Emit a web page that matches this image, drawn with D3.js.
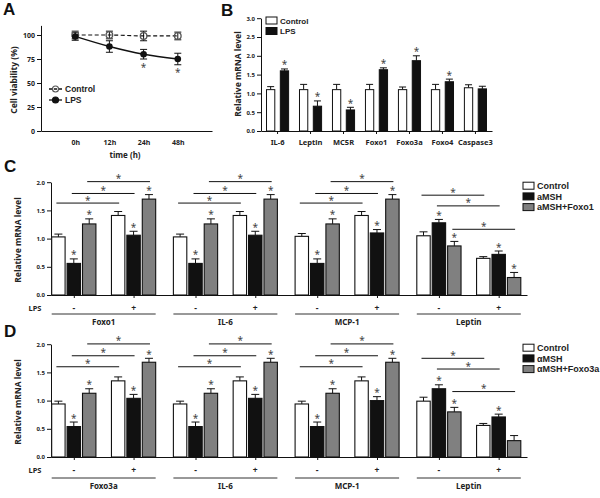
<!DOCTYPE html>
<html><head><meta charset="utf-8">
<script src="https://cdn.jsdelivr.net/npm/d3@7"></script>
<style>body{margin:0;background:#fff}svg{display:block}</style>
</head><body><svg id="c" width="600" height="498"></svg>
<script>
// ---------- DATA ----------
const timeLabels = ["0h", "12h", "24h", "48h"];
const viabilityControl = [100, 100, 99, 99];
const viabilityControlErr = [4, 4, 5, 4];
const viabilityLPS = [98.5, 88, 80, 75];
const viabilityLPSErr = [4, 6, 5, 6];
const viabilitySig = [0, 0, 1, 1];
const viabilityTicks = [0, 25, 50, 75, 100];

const genesB = ["IL-6", "Leptin", "MC5R", "Foxo1", "Foxo3a", "Foxo4", "Caspase3"];
const seriesB = ["Control", "LPS"];
const controlB = [1.10, 1.10, 1.10, 1.10, 1.10, 1.10, 1.15];
const controlBErr = [0.08, 0.14, 0.14, 0.14, 0.07, 0.14, 0.08];
const lpsB = [1.60, 0.66, 0.56, 1.63, 1.87, 1.31, 1.12];
const lpsBErr = [0.05, 0.14, 0.07, 0.05, 0.13, 0.07, 0.07];
const sigB = [1, 1, 1, 1, 1, 1, 0];
const ticksB = [0, 0.5, 1, 1.5, 2, 2.5, 3];

const lpsLevels = ["-", "+"];
const ticksCD = [0, 0.5, 1, 1.5, 2];
// order inside each gene: LPS- (Control, aMSH, aMSH+X), LPS+ (Control, aMSH, aMSH+X)
const genesC = ["Foxo1", "IL-6", "MCP-1", "Leptin"];
const seriesC = ["Control", "aMSH", "aMSH+Foxo1"];
const valuesC = [
  [1.03, 0.56, 1.26, 1.41, 1.06, 1.70],
  [1.03, 0.56, 1.26, 1.41, 1.06, 1.70],
  [1.04, 0.56, 1.26, 1.41, 1.10, 1.70],
  [1.05, 1.28, 0.87, 0.65, 0.72, 0.31]
];
const errorsC = [
  [0.05, 0.08, 0.09, 0.07, 0.07, 0.08],
  [0.05, 0.08, 0.09, 0.07, 0.07, 0.08],
  [0.05, 0.08, 0.09, 0.07, 0.06, 0.08],
  [0.07, 0.06, 0.08, 0.03, 0.06, 0.09]
];
const sigC = [
  [0, 1, 1, 0, 1, 1], [0, 1, 1, 0, 1, 1], [0, 1, 1, 0, 1, 1], [0, 1, 1, 0, 1, 1]
];
// bracket heights (Control, aMSH, aMSH+X : LPS- vs LPS+)
const bracketsC = [
  [1.63, 1.80, 2.01], [1.63, 1.80, 2.01], [1.63, 1.80, 2.01], [1.77, 1.58, 1.165]
];

const genesD = ["Foxo3a", "IL-6", "MCP-1", "Leptin"];
const seriesD = ["Control", "αMSH", "αMSH+Foxo3a"];
const valuesD = [
  [0.94, 0.54, 1.13, 1.35, 1.04, 1.68],
  [0.94, 0.54, 1.13, 1.35, 1.04, 1.68],
  [0.94, 0.54, 1.13, 1.35, 1.00, 1.68],
  [0.99, 1.21, 0.80, 0.56, 0.71, 0.29]
];
const errorsD = [
  [0.05, 0.08, 0.08, 0.07, 0.07, 0.07],
  [0.05, 0.08, 0.08, 0.07, 0.07, 0.07],
  [0.05, 0.08, 0.08, 0.07, 0.07, 0.07],
  [0.07, 0.07, 0.08, 0.035, 0.05, 0.09]
];
const sigD = [
  [0, 1, 1, 0, 1, 1], [0, 1, 1, 0, 1, 1], [0, 1, 1, 0, 1, 1], [0, 1, 1, 0, 1, 0]
];
const bracketsD = [
  [1.60, 1.795, 2.005], [1.60, 1.795, 2.005], [1.60, 1.795, 2.005], [1.75, 1.56, 1.16]
];

// ---------- DRAW ----------
const FONT = '"Noto Sans", "DejaVu Sans", sans-serif';
const LFONT = '"Liberation Sans", Arial, sans-serif';
const svg = d3.select("#c").style("font-family", FONT);
const FILLS = ["#ffffff", "#111111", "#808080"];
const INK = "#111";

function styleAxis(sel, fs) {
  sel.selectAll("path,line").attr("stroke", INK).attr("stroke-width", 1);
  sel.selectAll("text").attr("font-family", FONT).attr("font-size", fs)
     .attr("font-weight", "bold").attr("fill", "#222");
}
function star(g, x, yc, fs) {
  g.append("text").attr("x", x).attr("y", yc + fs * 0.55).attr("text-anchor", "middle")
    .attr("font-size", fs).attr("fill", "#444").attr("font-family", FONT).text("*");
}
function panelLabel(t, x, y) {
  svg.append("text").attr("x", x).attr("y", y).attr("font-size", 17).attr("font-weight", "bold")
    .attr("font-family", LFONT).attr("fill", "#111").text(t);
}
function yTitle(t, x, y) {
  svg.append("text").attr("transform", `translate(${x},${y}) rotate(-90)`).attr("text-anchor", "middle")
    .attr("font-size", 8.5).attr("font-weight", "bold").attr("fill", "#222").text(t);
}
function legendText(g, x, y, fs, t) {
  g.append("text").attr("x", x).attr("y", y).attr("font-size", fs).attr("font-weight", "bold")
    .attr("font-family", LFONT).attr("fill", "#222").text(t);
}

// Panel A
(function () {
  const g = svg.append("g");
  const x = d3.scalePoint().domain(timeLabels).range([41, 212]).padding(1);
  const y = d3.scaleLinear().domain([0, 110]).range([131, 25.4]);
  const ay = g.append("g").attr("transform", "translate(41,0)")
    .call(d3.axisLeft(y).tickValues(viabilityTicks).tickSize(4).tickSizeOuter(0).tickPadding(2));
  styleAxis(ay, 7);
  const ax = g.append("g").attr("transform", "translate(0,131)")
    .call(d3.axisBottom(x).tickSize(0).tickSizeOuter(0).tickPadding(9));
  styleAxis(ax, 7);
  g.append("text").attr("x", 125).attr("y", 158).attr("text-anchor", "middle")
    .attr("font-size", 8).attr("font-weight", "bold").attr("fill", "#222").text("time (h)");

  const line = d3.line().x((d, i) => x(timeLabels[i])).y(d => y(d)).curve(d3.curveMonotoneX);
  g.append("path").attr("d", line(viabilityControl)).attr("fill", "none").attr("stroke", INK)
    .attr("stroke-width", 1.2).attr("stroke-dasharray", "4,2.5");
  g.append("path").attr("d", line(viabilityLPS)).attr("fill", "none").attr("stroke", INK).attr("stroke-width", 1.4);

  function errs(vals, es) {
    vals.forEach((v, i) => {
      const cx = x(timeLabels[i]);
      g.append("line").attr("x1", cx).attr("x2", cx).attr("y1", y(v - es[i])).attr("y2", y(v + es[i])).attr("stroke", INK);
      [v - es[i], v + es[i]].forEach(w => g.append("line").attr("x1", cx - 3.5).attr("x2", cx + 3.5)
        .attr("y1", y(w)).attr("y2", y(w)).attr("stroke", INK));
    });
  }
  errs(viabilityControl, viabilityControlErr);
  errs(viabilityLPS, viabilityLPSErr);
  viabilityControl.forEach((v, i) => g.append("circle").attr("cx", x(timeLabels[i])).attr("cy", y(v)).attr("r", 3.3)
    .attr("fill", "none").attr("stroke", "#555").attr("stroke-width", 1.3));
  viabilityLPS.forEach((v, i) => g.append("circle").attr("cx", x(timeLabels[i])).attr("cy", y(v)).attr("r", 3.3).attr("fill", INK));
  viabilityLPS.forEach((v, i) => { if (viabilitySig[i]) star(g, x(timeLabels[i]), y(v - viabilityLPSErr[i]) + 6, 10); });

  // legend
  const items = [["Control", true], ["LPS", false]];
  items.forEach(([t, dashed], i) => {
    const yy = 89 + i * 11;
    g.append("line").attr("x1", 49).attr("x2", 62).attr("y1", yy).attr("y2", yy).attr("stroke", INK)
      .attr("stroke-width", 1.3).attr("stroke-dasharray", dashed ? "3,2" : null);
    g.append("circle").attr("cx", 55.5).attr("cy", yy).attr("r", 3).attr("fill", dashed ? "none" : INK)
      .attr("stroke", dashed ? "#555" : INK).attr("stroke-width", 1.2);
    legendText(g, 65, yy + 3, 8.5, t);
  });
  yTitle("Cell viability (%)", 17, 80);
})();

// Panel B
(function () {
  const g = svg.append("g");
  const x0 = d3.scaleBand().domain(genesB).range([261, 492]).paddingInner(0.33).paddingOuter(0.167);
  const x1 = d3.scaleBand().domain(seriesB).range([0, x0.bandwidth()]).paddingInner(0.4);
  const y = d3.scaleLinear().domain([0, 3]).range([131, 18.2]);
  const ay = g.append("g").attr("transform", "translate(261,0)")
    .call(d3.axisLeft(y).tickValues(ticksB).tickFormat(d3.format(".1f")).tickSize(4).tickSizeOuter(0).tickPadding(2));
  styleAxis(ay, 6);
  const ax = g.append("g").attr("transform", "translate(0,131)")
    .call(d3.axisBottom(x0).tickSize(3).tickSizeOuter(0).tickPadding(6));
  styleAxis(ax, 7.5);
  const sets = [[controlB, controlBErr], [lpsB, lpsBErr]];
  genesB.forEach((gene, gi) => {
    seriesB.forEach((s, si) => {
      const v = sets[si][0][gi], e = sets[si][1][gi];
      const bx = x0(gene) + x1(s), cx = bx + x1.bandwidth() / 2;
      g.append("line").attr("x1", cx).attr("x2", cx).attr("y1", y(v)).attr("y2", y(v + e)).attr("stroke", INK);
      g.append("line").attr("x1", cx - 3.5).attr("x2", cx + 3.5).attr("y1", y(v + e)).attr("y2", y(v + e)).attr("stroke", INK);
      g.append("rect").attr("x", bx).attr("y", y(v)).attr("width", x1.bandwidth()).attr("height", y(0) - y(v))
        .attr("fill", FILLS[si]).attr("stroke", INK).attr("stroke-width", 1);
      if (si === 1 && sigB[gi]) star(g, cx, y(v + e) - 6, 10);
    });
  });
  seriesB.forEach((s, i) => {
    const yy = 20.5 + i * 10.5;
    g.append("rect").attr("x", 266).attr("y", yy - 3.5).attr("width", 11).attr("height", 7)
      .attr("fill", FILLS[i]).attr("stroke", INK);
    legendText(g, 280, yy + 3, 8, s);
  });
  yTitle("Relative mRNA  level", 241, 74);
})();

// Panels C and D
function groupedPanel(cfg) {
  const g = svg.append("g");
  const y = d3.scaleLinear().domain([0, 2]).range([cfg.y0, cfg.y0 - 112.8]);
  const x0 = d3.scaleBand().domain(cfg.genes).range([51, 527]).paddingInner(0.1455).paddingOuter(0.0283).align(0.1);
  const x1 = d3.scaleBand().domain(lpsLevels).range([0, x0.bandwidth()]).paddingInner(0.26);
  const x2 = d3.scaleBand().domain(cfg.series).range([0, x1.bandwidth()]).paddingInner(0.13);
  const cx = (gene, l, s) => x0(gene) + x1(l) + x2(s) + x2.bandwidth() / 2;

  const ay = g.append("g").attr("transform", "translate(51,0)")
    .call(d3.axisLeft(y).tickValues(ticksCD).tickFormat(d3.format(".1f")).tickSize(4).tickSizeOuter(0).tickPadding(2));
  styleAxis(ay, 6);
  // x axis with ticks under each LPS triplet
  const tickPos = [];
  cfg.genes.forEach(gene => lpsLevels.forEach(l => tickPos.push({ l, x: x0(gene) + x1(l) + x1.bandwidth() / 2 })));
  const xt = d3.scaleLinear().domain(x0.range()).range(x0.range());
  const ax = g.append("g").attr("transform", `translate(0,${cfg.y0})`)
    .call(d3.axisBottom(xt).tickValues(tickPos.map(d => d.x)).tickFormat("").tickSize(3).tickSizeOuter(0));
  styleAxis(ax, 7);
  tickPos.forEach(d => g.append("text").attr("x", d.x).attr("y", cfg.y0 + 16).attr("text-anchor", "middle")
    .attr("font-size", 8.5).attr("font-weight", "bold").attr("fill", "#222").text(d.l));
  g.append("text").attr("x", 35).attr("y", cfg.y0 + 16).attr("text-anchor", "middle")
    .attr("font-size", 7.5).attr("font-weight", "bold").attr("fill", "#222").text("LPS");
  cfg.genes.forEach(gene => {
    g.append("line").attr("x1", x0(gene)).attr("x2", x0(gene) + x0.bandwidth())
      .attr("y1", cfg.y0 + cfg.lineDy).attr("y2", cfg.y0 + cfg.lineDy).attr("stroke", "#333").attr("stroke-width", 1);
    g.append("text").attr("x", x0(gene) + x0.bandwidth() / 2).attr("y", cfg.y0 + cfg.lineDy + 11)
      .attr("text-anchor", "middle").attr("font-size", 8).attr("font-weight", "bold").attr("fill", "#222").text(gene);
  });

  cfg.genes.forEach((gene, gi) => {
    lpsLevels.forEach((l, li) => cfg.series.forEach((s, si) => {
      const k = li * 3 + si;
      const v = cfg.values[gi][k], e = cfg.errors[gi][k];
      const bx = x0(gene) + x1(l) + x2(s), c = bx + x2.bandwidth() / 2;
      g.append("line").attr("x1", c).attr("x2", c).attr("y1", y(v)).attr("y2", y(v + e)).attr("stroke", INK);
      g.append("line").attr("x1", c - 4).attr("x2", c + 4).attr("y1", y(v + e)).attr("y2", y(v + e)).attr("stroke", INK);
      g.append("rect").attr("x", bx).attr("y", y(v)).attr("width", x2.bandwidth()).attr("height", y(0) - y(v))
        .attr("fill", FILLS[si]).attr("stroke", INK).attr("stroke-width", 1.1);
      if (cfg.sig[gi][k]) star(g, c, y(v + e) - 6, 10);
    }));
    cfg.series.forEach((s, si) => {
      const h = cfg.brackets[gi][si];
      const xa = cx(gene, "-", s) - 2, xb = cx(gene, "+", s) + 1;
      g.append("line").attr("x1", xa).attr("x2", xb).attr("y1", y(h)).attr("y2", y(h)).attr("stroke", INK).attr("stroke-width", 1);
      star(g, (xa + xb) / 2, y(h) - 5, 10);
    });
  });

  cfg.series.forEach((s, i) => {
    const yy = y(2) + 3.5 + i * 10.7;
    g.append("rect").attr("x", 523).attr("y", yy - 3.5).attr("width", 11).attr("height", 7)
      .attr("fill", FILLS[i]).attr("stroke", INK);
    legendText(g, 537, yy + 3.2, 9, s);
  });
  yTitle("Relative mRNA  level", 21, cfg.y0 - 55);
}

groupedPanel({ y0: 295, genes: genesC, series: seriesC, values: valuesC, errors: errorsC, sig: sigC, brackets: bracketsC, lineDy: 19 });
groupedPanel({ y0: 457, genes: genesD, series: seriesD, values: valuesD, errors: errorsD, sig: sigD, brackets: bracketsD, lineDy: 21 });

panelLabel("A", 3, 15);
panelLabel("B", 221, 16);
panelLabel("C", 4, 172);
panelLabel("D", 4, 337);
</script></body></html>
